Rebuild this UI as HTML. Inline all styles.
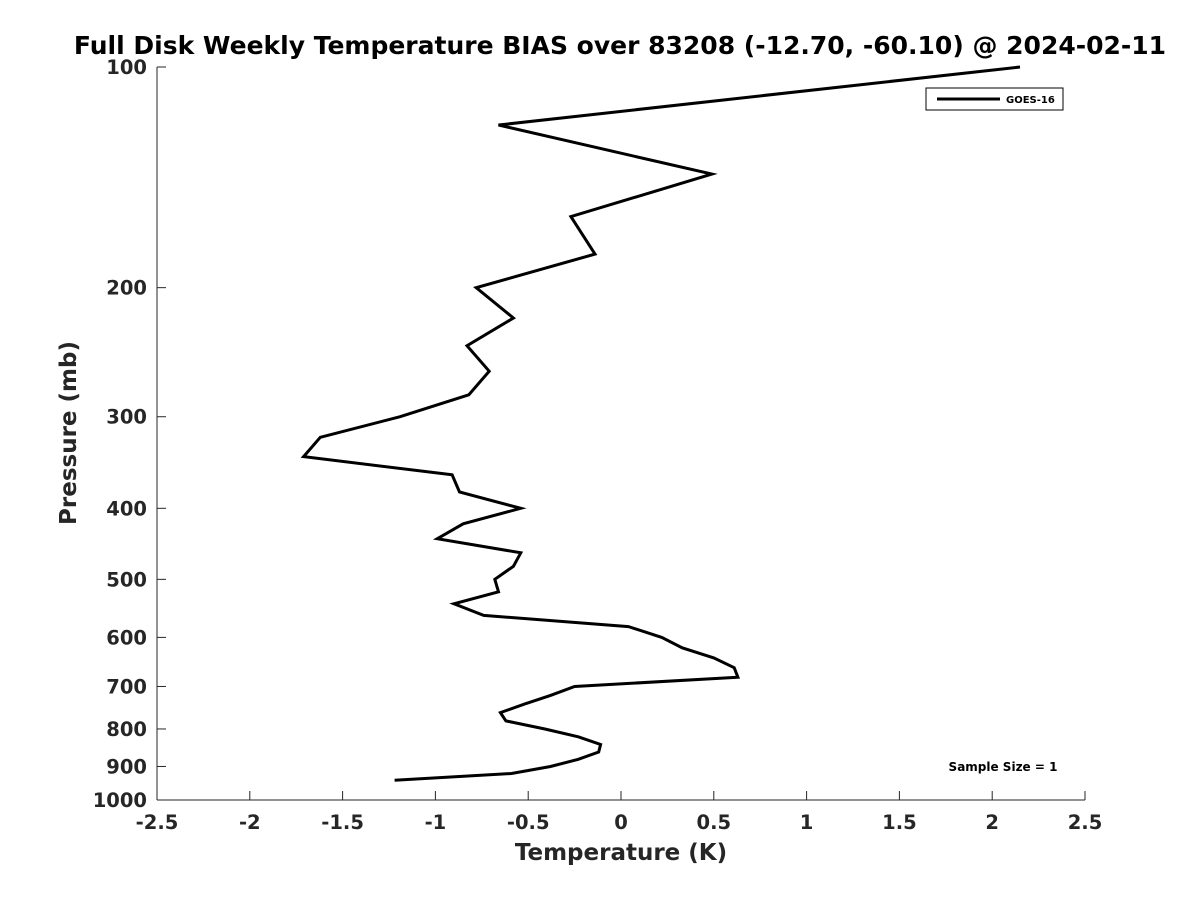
<!DOCTYPE html>
<html><head><meta charset="utf-8"><style>
body{margin:0;background:#fff;}
svg text{font-family:"DejaVu Sans","Liberation Sans",sans-serif;font-weight:bold;fill:#262626;}
</style></head><body>
<svg id="chart" width="1200" height="900" xmlns="http://www.w3.org/2000/svg">
<rect width="1200" height="900" fill="#fff"/>
<text x="620" y="54" font-size="25" text-anchor="middle" style="fill:#000">Full Disk Weekly Temperature BIAS over 83208 (-12.70, -60.10) @ 2024-02-11</text>
<g id="axes"></g>
<g id="series"></g>
<g>
<rect x="926" y="88" width="137" height="22" fill="#fff" stroke="#000" stroke-width="1"/>
<line x1="937" y1="99" x2="1000" y2="99" stroke="#000" stroke-width="3"/>
<text x="1006" y="103" font-size="10" style="fill:#000">GOES-16</text>
</g>
<text x="1003" y="771" font-size="12" text-anchor="middle" style="fill:#000">Sample Size = 1</text>
<text x="621" y="860" font-size="23" text-anchor="middle">Temperature (K)</text>
<text transform="translate(76,433) rotate(-90)" font-size="23" text-anchor="middle">Pressure (mb)</text>
</svg>
<script>
const xTicks=[-2.5,-2,-1.5,-1,-0.5,0,0.5,1,1.5,2,2.5];
const xTickLabels=["-2.5","-2","-1.5","-1","-0.5","0","0.5","1","1.5","2","2.5"];
const yTicks=[100,200,300,400,500,600,700,800,900,1000];
const pressures=[100,120,140,160,180,200,220,240,260,280,300,320,340,360,380,400,420,440,460,480,500,520,540,560,580,600,620,640,660,680,700,720,740,760,780,800,820,840,860,880,900,920,940];
const bias=[2.15,-0.66,0.49,-0.27,-0.14,-0.78,-0.58,-0.83,-0.71,-0.82,-1.19,-1.62,-1.71,-0.91,-0.87,-0.54,-0.85,-0.99,-0.54,-0.58,-0.68,-0.66,-0.90,-0.74,0.04,0.22,0.33,0.50,0.61,0.63,-0.25,-0.38,-0.52,-0.65,-0.62,-0.41,-0.23,-0.11,-0.12,-0.23,-0.38,-0.59,-1.22];
const X0=157,X1=1085,Y0=67,Y1=800;
const xs=v=>X0+(v+2.5)/5*(X1-X0);
const ys=p=>Y0+Math.log10(p/100)*(Y1-Y0);
const NS="http://www.w3.org/2000/svg";
function mk(t,a,parent){const e=document.createElementNS(NS,t);for(const k in a)e.setAttribute(k,a[k]);parent.appendChild(e);return e;}
const ax=document.getElementById('axes');
let l=mk('line',{x1:X0,y1:Y1,x2:X1,y2:Y1,stroke:'#262626','stroke-width':1},ax);


l=mk('line',{x1:X0,y1:Y0,x2:X0,y2:Y1,stroke:'#262626','stroke-width':1},ax);


xTicks.forEach((v,i)=>{const x=xs(v);
mk('line',{x1:x,y1:Y1,x2:x,y2:Y1-9,stroke:'#262626'},ax);
const t=mk('text',{x:x,y:Y1+29,'font-size':19.5,'text-anchor':'middle'},ax);t.textContent=xTickLabels[i];

});
yTicks.forEach(p=>{const y=ys(p);
mk('line',{x1:X0,y1:y,x2:X0+9,y2:y,stroke:'#262626'},ax);
const t=mk('text',{x:X0-10,y:y+7,'font-size':19.5,'text-anchor':'end'},ax);t.textContent=String(p);

});
const pts=pressures.map((p,i)=>xs(bias[i]).toFixed(1)+','+ys(p).toFixed(1)).join(' ');
const pl=mk('polyline',{points:pts,fill:'none',stroke:'#000','stroke-width':3,'stroke-linejoin':'miter'},document.getElementById('series'));


</script>
</body></html>
